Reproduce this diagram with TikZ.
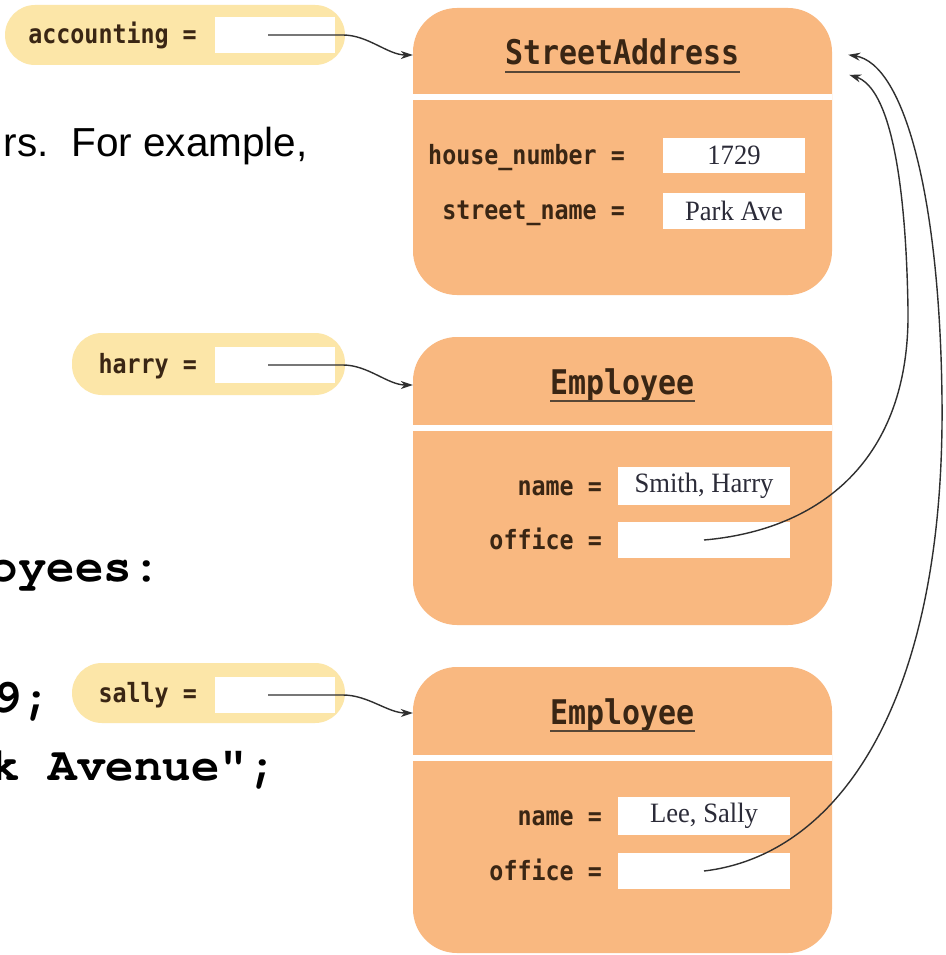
\documentclass[tikz,border=0pt]{standalone}
\usepackage{fontspec}
\usetikzlibrary{arrows.meta}
\setmainfont{Liberation Serif}
\newfontfamily\slidefont{Liberation Sans}
\newfontfamily\codefont{TeX Gyre Cursor}
\newfontfamily\diagmono[FakeStretch=0.88]{DejaVu Sans Mono}
\newfontfamily\valfont[FakeStretch=0.95]{Liberation Serif}

\definecolor{objfill}{HTML}{F9B880}
\definecolor{pillfill}{HTML}{FCE6A8}
\definecolor{inkbrown}{HTML}{3A2614}
\definecolor{valink}{HTML}{2B2B38}
\definecolor{wirecol}{HTML}{2F2F2F}

\tikzset{
  objbox/.style={rectangle, draw=none, fill=objfill, rounded corners=44pt, inner sep=0pt},
  pillbox/.style={rectangle, draw=none, fill=pillfill, rounded corners=30pt, inner sep=0pt},
  valbox/.style={rectangle, draw=none, fill=white, inner sep=0pt,
    font=\valfont\fontsize{28}{32}\selectfont, text=valink},
  hdr/.style={inner sep=0pt, font=\diagmono\bfseries\fontsize{34}{40}\selectfont, text=inkbrown},
  fieldlab/.style={inner sep=0pt, anchor=base east,
    font=\diagmono\bfseries\fontsize{26.5}{30}\selectfont, text=inkbrown},
  sepline/.style={white, line width=6.5pt},
  uline/.style={inkbrown!85, line width=2.2pt},
  ptr/.style={wirecol, line width=1.4pt, -{Stealth[length=12pt,width=8pt]}},
  slidetxt/.style={inner sep=0pt, anchor=base east, font=\slidefont\fontsize{40.5}{48}\selectfont},
  codetxt/.style={inner sep=0pt, anchor=base east, font=\codefont\bfseries\fontsize{47.5}{56}\selectfont}
}

\begin{document}
\begin{tikzpicture}[x=1pt, y=-1pt]
\useasboundingbox (0,0) rectangle (945,955);
\fill[white] (0,0) rectangle (945,955);

% slide text behind the diagram
\node[slidetxt] (t1) at (308,157) {rs.\ \ For example,};
\node[codetxt] (c1) at (161,581) {oyees:};
\node[codetxt] (c2) at (51,712) {9;};
\node[codetxt] (c3) at (277,780) {k Avenue";};

% variables
\node[pillbox, minimum width=340pt, minimum height=60pt] (accpill) at (175,35) {};
\node[fieldlab] (acclab) at (197,44) {accounting =};
\node[valbox, minimum width=120pt, minimum height=36pt] (accval) at (275,35) {};

\node[pillbox, minimum width=273pt, minimum height=62pt] (harrypill) at (208.5,364) {};
\node[fieldlab] (harrylab) at (197,373) {harry =};
\node[valbox, minimum width=120pt, minimum height=36pt] (harryval) at (275,365) {};

\node[pillbox, minimum width=273pt, minimum height=60pt] (sallypill) at (208.5,693) {};
\node[fieldlab] (sallylab) at (197,702) {sally =};
\node[valbox, minimum width=120pt, minimum height=36pt] (sallyval) at (275,695) {};

% StreetAddress object
\node[objbox, minimum width=419pt, minimum height=287pt] (sa) at (622.5,151.5) {};
\draw[sepline] ([yshift=-89pt]sa.north west) -- ([yshift=-89pt]sa.north east);
\node[hdr, anchor=base] (sahdr) at (622.5,65) {StreetAddress};
\draw[uline] ([yshift=-7pt]sahdr.base west) -- ([yshift=-7pt]sahdr.base east);
\node[fieldlab] (sahnl) at (625,164) {house\_number =};
\node[valbox, minimum width=142pt, minimum height=35pt] (sahn) at (734,155.5) {1729};
\node[fieldlab] (sasnl) at (625,219) {street\_name =};
\node[valbox, minimum width=142pt, minimum height=36pt] (sasn) at (734,211) {Park Ave};

% first Employee object
\node[objbox, minimum width=419pt, minimum height=288pt] (e1) at (622.5,481) {};
\draw[sepline] ([yshift=-91pt]e1.north west) -- ([yshift=-91pt]e1.north east);
\node[hdr, anchor=base] (e1hdr) at (622.5,394) {Employee};
\draw[uline] ([yshift=-7pt]e1hdr.base west) -- ([yshift=-7pt]e1hdr.base east);
\node[fieldlab] (e1nl) at (602,495) {name =};
\node[valbox, minimum width=172pt, minimum height=38pt] (e1name) at (704,486) {Smith, Harry};
\node[fieldlab] (e1ol) at (602,549) {office =};
\node[valbox, minimum width=172pt, minimum height=36pt] (e1off) at (704,540) {};

% second Employee object
\node[objbox, minimum width=419pt, minimum height=286pt] (e2) at (622.5,810) {};
\draw[sepline] ([yshift=-91pt]e2.north west) -- ([yshift=-91pt]e2.north east);
\node[hdr, anchor=base] (e2hdr) at (622.5,724) {Employee};
\draw[uline] ([yshift=-7pt]e2hdr.base west) -- ([yshift=-7pt]e2hdr.base east);
\node[fieldlab] (e2nl) at (602,825) {name =};
\node[valbox, minimum width=172pt, minimum height=38pt] (e2name) at (704,816) {Lee, Sally};
\node[fieldlab] (e2ol) at (602,880) {office =};
\node[valbox, minimum width=172pt, minimum height=36pt] (e2off) at (704,871) {};

% arrow end points
\coordinate (acctip) at ([yshift=-20pt]sa.west |- accval.center);
\coordinate (harrytip) at ([yshift=-20pt]e1.west |- harryval.center);
\coordinate (sallytip) at ([yshift=-18pt]e2.west |- sallyval.center);
\coordinate (saoutA) at ([xshift=16pt,yshift=-47pt]sa.north east);
\coordinate (sainB) at ([xshift=17pt,yshift=-67pt]sa.north east);

% references from variables
\draw[ptr] ([xshift=-7pt]accval.center) -- ++(75,0) .. controls +(25,0) and +(-25,0) .. (acctip);
\draw[ptr] ([xshift=-7pt]harryval.center) -- ++(75,0) .. controls +(25,0) and +(-25,0) .. (harrytip);
\draw[ptr] ([xshift=-7pt]sallyval.center) -- ++(75,0) .. controls +(25,0) and +(-25,0) .. (sallytip);

% office references to the shared StreetAddress
\draw[ptr] (e1off.center) .. controls (820,530) and (910,460) .. (908,310)
  .. controls (906,180) and (890,88) .. (sainB);
\draw[ptr] (e2off.center) .. controls (840,855) and (945,700) .. (942,400)
  .. controls (940,200) and (905,64) .. (saoutA);
\end{tikzpicture}
\end{document}
